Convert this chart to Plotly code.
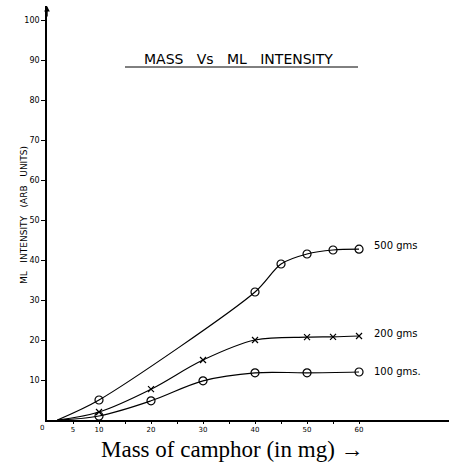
import plotly.graph_objects as go

# Data
x_500 = [2, 10, 40, 45, 50, 55, 60]
y_500 = [0, 5, 32, 39, 41.5, 42.5, 42.7]
x_200 = [2, 10, 20, 30, 40, 50, 55, 60]
y_200 = [0, 2, 7.7, 15, 20, 20.7, 20.8, 21]
x_100 = [2, 10, 20, 30, 40, 50, 60]
y_100 = [0, 1, 4.8, 9.8, 11.8, 11.8, 12]

x_tickvals = [5, 10, 15, 20, 25, 30, 35, 40, 45, 50, 55, 60]
x_ticktext = ["5", "10", "", "20", "", "30", "", "40", "", "50", "", "60"]
y_tickvals = [10, 20, 30, 40, 50, 60, 70, 80, 90, 100]
y_ticktext = ["10", "20", "30", "40", "50", "60", "70", "80", "90", "100"]

series_labels = ["500 gms", "200 gms", "100 gms."]

fig = go.Figure()

def add_series(xs, ys, symbol, size, smoothing):
    fig.add_trace(go.Scatter(x=xs, y=ys, mode="lines",
                             line=dict(color="black", width=1.2, shape="spline", smoothing=smoothing),
                             showlegend=False, hoverinfo="skip"))
    fig.add_trace(go.Scatter(x=xs[1:], y=ys[1:], mode="markers",
                             marker=dict(symbol=symbol, size=size, color="black", line=dict(color="black", width=1.2)),
                             showlegend=False))

add_series(x_500, y_500, "circle-open", 8, 0.8)
add_series(x_200, y_200, "x-thin-open", 6, 1.0)
add_series(x_100, y_100, "circle-open", 8, 1.0)

label_y = [y_500[-1] + 1.0, y_200[-1] + 0.7, y_100[-1] + 0.2]
for lab, ly in zip(series_labels, label_y):
    fig.add_annotation(x=62.5, y=ly, xref="x", yref="y", text=lab, showarrow=False, xanchor="left",
                       font=dict(family="DejaVu Sans", size=10, color="black"))

# title
fig.add_annotation(x=(238 - 47) / 402, y=(420 - 59) / 414, xref="paper", yref="paper",
                   text="MASS   Vs   ML   INTENSITY", showarrow=False,
                   yanchor="middle", font=dict(family="DejaVu Sans", size=14, color="black"))
fig.add_shape(type="line", xref="paper", yref="paper", x0=(125 - 47) / 402, x1=(358 - 47) / 402,
              y0=(420 - 67) / 414, y1=(420 - 67) / 414, line=dict(color="black", width=1))

# y axis title
fig.add_annotation(x=(17 - 47) / 402, y=(420 - 215) / 414, xref="paper", yref="paper",
                   text="ML   INTENSITY   (ARB   UNITS)",
                   showarrow=False, textangle=-90, font=dict(family="DejaVu Sans", size=9, color="black"))

# x axis title
fig.add_annotation(x=(232 - 47) / 402, y=(420 - 449) / 414, xref="paper", yref="paper",
                   text="Mass of camphor (in mg) \u2192",
                   showarrow=False, yanchor="middle", font=dict(family="Liberation Serif", size=23, color="black"))

# origin label
fig.add_annotation(x=(38 - 47) / 402, y=(420 - 428) / 414, xref="paper", yref="paper", text="0", showarrow=False,
                   yanchor="middle", font=dict(family="DejaVu Sans", size=7, color="black"))

# arrow on y axis
fig.add_annotation(x=0, y=1.0, xref="paper", yref="paper", text="", showarrow=True, ax=0, ay=12,
                   arrowhead=2, arrowsize=0.8, arrowwidth=1.4, arrowcolor="black")

fig.update_xaxes(range=[0, 77.3], showgrid=False, zeroline=False, showline=True, linecolor="black", linewidth=1.5,
                 tickvals=x_tickvals, ticktext=x_ticktext, ticks="outside", ticklen=2, tickcolor="black",
                 tickfont=dict(family="DejaVu Sans", size=7, color="black"), automargin=False)
fig.update_yaxes(range=[0, 103.5], showgrid=False, zeroline=False, showline=True, linecolor="black", linewidth=1.5,
                 tickvals=y_tickvals, ticktext=y_ticktext, ticks="outside", ticklen=4, tickcolor="black",
                 tickfont=dict(family="DejaVu Sans", size=8, color="black"), automargin=False)

fig.update_layout(width=449, height=462, margin=dict(l=47, r=0, t=6, b=42, autoexpand=False),
                  paper_bgcolor="white", plot_bgcolor="white", showlegend=False)

fig.write_html("out.html", config={"displayModeBar": False},
               post_script="document.body.style.margin='0';document.body.style.overflow='hidden';")
